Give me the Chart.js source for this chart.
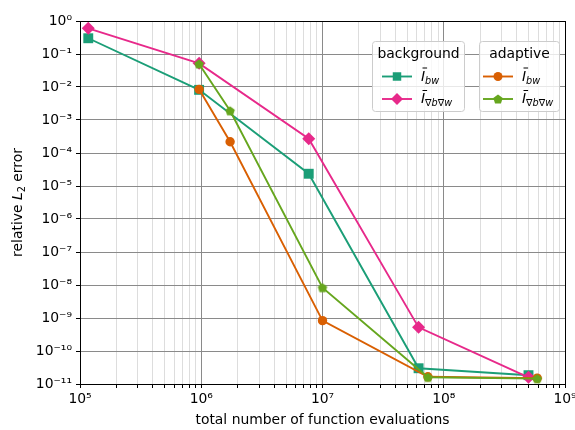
<!DOCTYPE html>
<html>
<head>
<meta charset="utf-8">
<script src="https://cdn.jsdelivr.net/npm/chart.js@4.4.1/dist/chart.umd.min.js"></script>
<style>
  html, body { margin: 0; padding: 0; background: #fff; }
</style>
</head>
<body>
<canvas id="chart" width="575" height="430"></canvas>
<script>
// Data (x: evaluations, y: relative L2 error)
const bgBwX = [1.17e5, 9.6e5, 7.7e6, 6.2e7, 5.0e8];
const bgBwY = [0.30, 8.2e-3, 2.35e-5, 3.0e-11, 1.85e-11];
const bgGradX = [1.17e5, 9.6e5, 7.7e6, 6.2e7, 5.0e8];
const bgGradY = [0.60, 5.2e-2, 2.7e-4, 5.2e-10, 1.6e-11];
const adBwX = [9.6e5, 1.73e6, 1.0e7, 7.4e7, 5.9e8];
const adBwY = [8.5e-3, 2.2e-4, 8.3e-10, 1.65e-11, 1.5e-11];
const adGradX = [9.6e5, 1.73e6, 1.0e7, 7.4e7, 5.9e8];
const adGradY = [5.0e-2, 1.9e-3, 8.3e-9, 1.6e-11, 1.45e-11];

const xTicks = [];
for (let e = 5; e <= 8; e++) {
  for (let m = 1; m <= 9; m++) xTicks.push(m * Math.pow(10, e));
}
xTicks.push(1e9);
const yTicks = [];
for (let e = -11; e <= 0; e++) yTicks.push(Math.pow(10, e));

const colors = { teal: '#1b9e77', pink: '#e7298a', orange: '#d95f02', green: '#66a61e' };
const FONT = 'DejaVu Sans';
const FS = 13.9;   // main font size
const SUB = 9.7;   // subscript size

const sup = { '0': '⁰', '1': '¹', '2': '²', '3': '³', '4': '⁴', '5': '⁵', '6': '⁶', '7': '⁷', '8': '⁸', '9': '⁹', '-': '⁻' };
function powLabel(v) {
  const e = Math.log10(v);
  if (Math.abs(e - Math.round(e)) > 1e-9) return '';
  return '10' + String(Math.round(e)).split('').map(c => sup[c]).join('');
}
function isMajor(v) {
  const e = Math.log10(v);
  return Math.abs(e - Math.round(e)) < 1e-9;
}

// pentagon marker
function pentagon(r, color) {
  const c = document.createElement('canvas');
  const s = Math.ceil(2 * r + 2);
  c.width = s; c.height = s;
  const g = c.getContext('2d');
  g.fillStyle = color;
  g.beginPath();
  for (let i = 0; i < 5; i++) {
    const a = -Math.PI / 2 + i * 2 * Math.PI / 5;
    const px = s / 2 + r * Math.cos(a), py = s / 2 + r * Math.sin(a) + 0.5;
    if (i === 0) g.moveTo(px, py); else g.lineTo(px, py);
  }
  g.closePath();
  g.fill();
  return c;
}
const pentaImg = pentagon(5, colors.green);

const pts = (xs, ys) => xs.map((x, i) => ({ x: x, y: ys[i] }));

// draws text made of several runs (font / baseline shift / overline)
function drawRuns(ctx, runs, x, y, align) {
  let total = 0;
  runs.forEach(r => { ctx.font = r.font; r.w = ctx.measureText(r.text).width; total += r.w; });
  let cx = align === 'center' ? x - total / 2 : x;
  ctx.textAlign = 'left';
  ctx.textBaseline = 'alphabetic';
  runs.forEach(r => {
    ctx.font = r.font;
    ctx.fillText(r.text, cx, y + (r.dy || 0));
    if (r.bar) {
      ctx.save();
      ctx.strokeStyle = ctx.fillStyle;
      ctx.lineWidth = 1;
      ctx.beginPath();
      ctx.moveTo(cx + 1.5, y - 12.5);
      ctx.lineTo(cx + r.w + 2, y - 12.5);
      ctx.stroke();
      ctx.restore();
    }
    cx += r.w;
  });
}

const labelBw = () => [
  { text: 'I', font: 'italic ' + FS + 'px ' + FONT, bar: true },
  { text: 'bw', font: 'italic ' + SUB + 'px ' + FONT, dy: 3 }
];
const labelGrad = () => [
  { text: 'I', font: 'italic ' + FS + 'px ' + FONT, bar: true },
  { text: '∇', font: SUB + 'px ' + FONT, dy: 3 },
  { text: 'b', font: 'italic ' + SUB + 'px ' + FONT, dy: 3 },
  { text: '∇', font: SUB + 'px ' + FONT, dy: 3 },
  { text: 'w', font: 'italic ' + SUB + 'px ' + FONT, dy: 3 }
];

const legendGroups = [
  { title: 'background', box: [372.5, 41.5, 92, 70], lineX: [382, 412], textX: 421,
    items: [
      { color: colors.teal, style: 'rect', radius: 6, label: labelBw },
      { color: colors.pink, style: 'rectRot', radius: 6, label: labelGrad }
    ] },
  { title: 'adaptive', box: [479.5, 41.5, 80, 70], lineX: [483, 513], textX: 522,
    items: [
      { color: colors.orange, style: 'circle', radius: 4.5, label: labelBw },
      { color: colors.green, style: pentaImg, radius: 5, label: labelGrad }
    ] }
];

const decorPlugin = {
  id: 'decor',
  afterDatasetsDraw(chart) {
    const ctx = chart.ctx, a = chart.chartArea;
    ctx.save();
    ctx.strokeStyle = '#000';
    ctx.lineWidth = 1;
    ctx.strokeRect(Math.round(a.left) + 0.5, Math.round(a.top) + 0.5,
      Math.round(a.right - a.left), Math.round(a.bottom - a.top));
    ctx.restore();
  },
  afterDraw(chart) {
    const ctx = chart.ctx, a = chart.chartArea;
    ctx.save();
    ctx.fillStyle = '#000';
    // x axis title
    drawRuns(ctx, [{ text: 'total number of function evaluations', font: FS + 'px ' + FONT }],
      (a.left + a.right) / 2, 424, 'center');
    // y axis title
    ctx.save();
    ctx.translate(22, (a.top + a.bottom) / 2);
    ctx.rotate(-Math.PI / 2);
    drawRuns(ctx, [
      { text: 'relative ', font: FS + 'px ' + FONT },
      { text: 'L', font: 'italic ' + FS + 'px ' + FONT },
      { text: '2', font: SUB + 'px ' + FONT, dy: 3 },
      { text: ' error', font: FS + 'px ' + FONT }
    ], 0, 0, 'center');
    ctx.restore();

    // legends
    legendGroups.forEach(g => {
      const [bx, by, bw, bh] = g.box;
      ctx.beginPath();
      ctx.roundRect(bx, by, bw, bh, 3);
      ctx.fillStyle = 'rgba(255,255,255,0.8)';
      ctx.fill();
      ctx.strokeStyle = '#cccccc';
      ctx.lineWidth = 1;
      ctx.stroke();
      ctx.fillStyle = '#000';
      drawRuns(ctx, [{ text: g.title, font: FS + 'px ' + FONT }], bx + bw / 2, by + 16.5, 'center');
      g.items.forEach((it, i) => {
        const y = by + 35 + i * 22.5;
        ctx.strokeStyle = it.color;
        ctx.lineWidth = 1.9;
        ctx.beginPath();
        ctx.moveTo(g.lineX[0], y);
        ctx.lineTo(g.lineX[1], y);
        ctx.stroke();
        ctx.fillStyle = it.color;
        Chart.helpers.drawPoint(ctx, { pointStyle: it.style, radius: it.radius, rotation: 0, borderWidth: 0 },
          (g.lineX[0] + g.lineX[1]) / 2, y);
        ctx.fillStyle = '#000';
        drawRuns(ctx, it.label(), g.textX, y + 4, 'left');
      });
    });
    ctx.restore();
  }
};

function series(label, xs, ys, color, style, radius, order) {
  return {
    label: label,
    data: pts(xs, ys),
    borderColor: color,
    backgroundColor: color,
    borderWidth: 1.9,
    pointStyle: style,
    pointRadius: radius,
    pointBorderWidth: 0,
    pointBackgroundColor: color,
    order: order
  };
}

new Chart(document.getElementById('chart').getContext('2d'), {
  type: 'line',
  data: {
    datasets: [
      series('background bw', bgBwX, bgBwY, colors.teal, 'rect', 7, 4),
      series('background grad', bgGradX, bgGradY, colors.pink, 'rectRot', 6.5, 3),
      series('adaptive bw', adBwX, adBwY, colors.orange, 'circle', 4.7, 2),
      series('adaptive grad', adGradX, adGradY, colors.green, pentaImg, 5, 1)
    ]
  },
  options: {
    responsive: false,
    animation: false,
    devicePixelRatio: 1,
    layout: { padding: { top: 21, right: 10, left: 0, bottom: 0 } },
    plugins: { legend: { display: false }, tooltip: { enabled: false } },
    scales: {
      x: {
        type: 'logarithmic',
        min: 1e5,
        max: 1e9,
        afterBuildTicks: s => { s.ticks = xTicks.map(v => ({ value: v, major: isMajor(v) })); },
        afterFit: s => { s.height = 46; s.paddingLeft = 0; s.paddingRight = 0; },
        ticks: {
          autoSkip: false,
          maxRotation: 0,
          color: '#000',
          padding: 3,
          font: { family: FONT, size: FS },
          callback: v => powLabel(v)
        },
        grid: {
          color: c => (c.tick && isMajor(c.tick.value)) ? '#8a8a8a' : '#dddddd',
          lineWidth: 1,
          tickColor: '#000',
          tickLength: 4
        },
        border: { color: '#000', width: 1 }
      },
      y: {
        type: 'logarithmic',
        min: 1e-11,
        max: 1,
        afterBuildTicks: s => { s.ticks = yTicks.map(v => ({ value: v, major: true })); },
        afterFit: s => { s.width = 80; s.paddingTop = 0; s.paddingBottom = 0; },
        ticks: {
          autoSkip: false,
          color: '#000',
          padding: 4,
          font: { family: FONT, size: FS },
          callback: v => powLabel(v)
        },
        grid: {
          color: '#8a8a8a',
          lineWidth: 1,
          tickColor: '#000',
          tickLength: 4
        },
        border: { color: '#000', width: 1 }
      }
    }
  },
  plugins: [decorPlugin]
});
</script>
</body>
</html>
